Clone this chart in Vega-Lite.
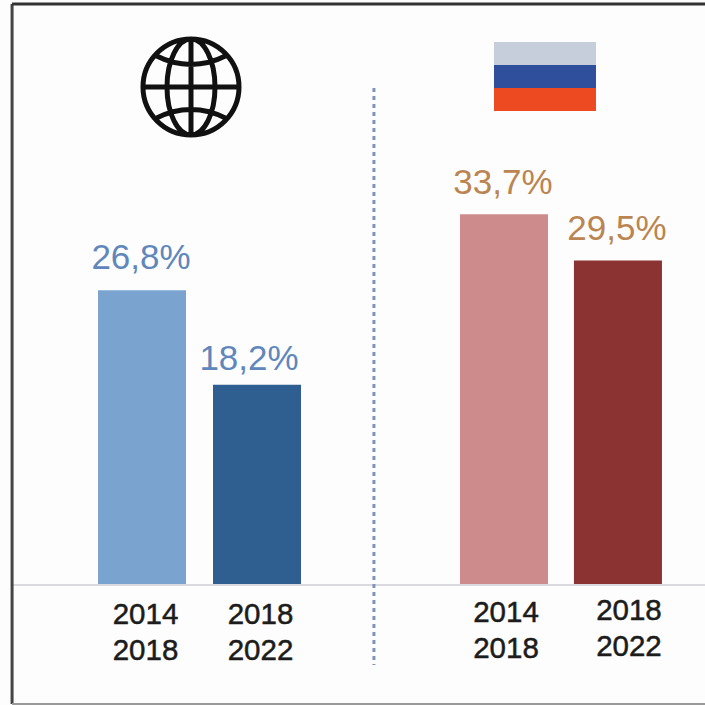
{
  "$schema": "https://vega.github.io/schema/vega-lite/v6.json",
  "width": 705,
  "height": 705,
  "padding": 0,
  "autosize": "none",
  "background": "#fdfdfd",
  "config": {"view": {"stroke": null}},
  "datasets": {
    "bars": [
      {"region": "World", "period": "2014\n2018", "series": "World 2014-2018", "slot": 1, "share": 26.8, "label": "26,8%"},
      {"region": "World", "period": "2018\n2022", "series": "World 2018-2022", "slot": 2, "share": 18.2, "label": "18,2%"},
      {"region": "Russia", "period": "2014\n2018", "series": "Russia 2014-2018", "slot": 4.148, "share": 33.7, "label": "33,7%"},
      {"region": "Russia", "period": "2018\n2022", "series": "Russia 2018-2022", "slot": 5.139, "share": 29.5, "label": "29,5%"}
    ],
    "flag": [
      {"stripe": "white", "top": 49.36, "bottom": 47.27},
      {"stripe": "blue", "top": 47.27, "bottom": 45.18},
      {"stripe": "red", "top": 45.18, "bottom": 43.09}
    ],
    "single": [{"item": "decoration"}]
  },
  "layer": [
    {
      "description": "Bars for each region and period",
      "data": {"name": "bars"},
      "mark": {"type": "bar", "size": 88, "orient": "vertical"},
      "encoding": {
        "x": {"field": "slot", "type": "quantitative", "axis": null, "scale": {"domain": [-0.235, 5.896], "nice": false, "zero": false, "padding": 0}},
        "y": {"field": "share", "type": "quantitative", "axis": null, "stack": false, "scale": {"domain": [-10.91, 53.18], "nice": false, "zero": false}},
        "color": {
          "field": "series",
          "type": "nominal",
          "legend": null,
          "scale": {
            "domain": ["World 2014-2018", "World 2018-2022", "Russia 2014-2018", "Russia 2018-2022"],
            "range": ["#7ba3cf", "#2f5f91", "#cd8b8c", "#8b3232"]
          }
        }
      }
    },
    {
      "description": "Baseline under the bars",
      "data": {"name": "single"},
      "mark": {"type": "rule", "color": "#d9d9df", "strokeWidth": 2},
      "encoding": {
        "x": {"datum": -0.13, "type": "quantitative"},
        "x2": {"datum": 5.896},
        "y": {"datum": 0, "type": "quantitative"}
      }
    },
    {
      "description": "Dotted divider between the two regions",
      "data": {"name": "single"},
      "mark": {"type": "rule", "color": "#7f93bd", "strokeWidth": 3, "strokeDash": [4, 4]},
      "encoding": {
        "x": {"datum": 3.017, "type": "quantitative"},
        "y": {"datum": 45.18, "type": "quantitative"},
        "y2": {"datum": -7.27}
      }
    },
    {
      "description": "Outer frame: left edge",
      "data": {"name": "single"},
      "mark": {"type": "rule", "color": "#444444", "strokeWidth": 3},
      "encoding": {
        "x": {"datum": -0.13, "type": "quantitative"},
        "y": {"datum": 52.82, "type": "quantitative"},
        "y2": {"datum": -10.82}
      }
    },
    {
      "description": "Outer frame: top edge",
      "data": {"name": "single"},
      "mark": {"type": "rule", "color": "#333333", "strokeWidth": 3},
      "encoding": {
        "x": {"datum": -0.13, "type": "quantitative"},
        "x2": {"datum": 5.896},
        "y": {"datum": 52.82, "type": "quantitative"}
      }
    },
    {
      "description": "Outer frame: bottom edge",
      "data": {"name": "single"},
      "mark": {"type": "rule", "color": "#9a9a9a", "strokeWidth": 2},
      "encoding": {
        "x": {"datum": -0.13, "type": "quantitative"},
        "x2": {"datum": 5.896},
        "y": {"datum": -10.82, "type": "quantitative"}
      }
    },
    {
      "description": "Russian flag stripes",
      "data": {"name": "flag"},
      "mark": {"type": "rect"},
      "encoding": {
        "x": {"datum": 4.061, "type": "quantitative"},
        "x2": {"datum": 4.948},
        "y": {"field": "top", "type": "quantitative"},
        "y2": {"field": "bottom"},
        "fill": {
          "field": "stripe",
          "type": "nominal",
          "legend": null,
          "scale": {"domain": ["white", "blue", "red"], "range": ["#c6cedb", "#2f4f9d", "#ee4a22"]}
        }
      }
    },
    {
      "description": "Globe icon drawn as a custom symbol",
      "data": {"name": "single"},
      "mark": {
        "type": "point",
        "filled": false,
        "stroke": "#111111",
        "strokeWidth": 5,
        "opacity": 1,
        "size": 9216,
        "shape": "M-1,0A1,1 0 1,1 1,0A1,1 0 1,1 -1,0ZM-1,0L1,0M0,-1L0,1M0,-1A0.5,1 0 1,0 0,1A0.5,1 0 1,0 0,-1ZM-0.75,-0.66Q0,-0.28 0.75,-0.66M-0.75,0.66Q0,0.28 0.75,0.66"
      },
      "encoding": {
        "x": {"datum": 1.426, "type": "quantitative"},
        "y": {"datum": 45.27, "type": "quantitative"}
      }
    },
    {
      "description": "Value label of the taller World bar",
      "data": {"name": "bars"},
      "transform": [{"filter": "datum.label === '26,8%'"}],
      "mark": {"type": "text", "font": "Liberation Sans", "fontSize": 35, "color": "#5f87bb", "baseline": "alphabetic", "align": "center", "dx": -1, "dy": -21},
      "encoding": {
        "x": {"field": "slot", "type": "quantitative"},
        "y": {"field": "share", "type": "quantitative"},
        "text": {"field": "label"}
      }
    },
    {
      "description": "Value label of the shorter World bar sits left of its bar",
      "data": {"name": "bars"},
      "transform": [{"filter": "datum.label === '18,2%'"}],
      "mark": {"type": "text", "font": "Liberation Sans", "fontSize": 35, "color": "#5f87bb", "baseline": "alphabetic", "align": "center", "dx": -8, "dy": -15},
      "encoding": {
        "x": {"field": "slot", "type": "quantitative"},
        "y": {"field": "share", "type": "quantitative"},
        "text": {"field": "label"}
      }
    },
    {
      "description": "Value labels, Russia",
      "data": {"name": "bars"},
      "transform": [{"filter": "datum.region === 'Russia'"}],
      "mark": {"type": "text", "font": "Liberation Sans", "fontSize": 35, "color": "#bb8552", "baseline": "alphabetic", "align": "center", "dx": -1, "dy": -20.5},
      "encoding": {
        "x": {"field": "slot", "type": "quantitative"},
        "y": {"field": "share", "type": "quantitative"},
        "text": {"field": "label"}
      }
    },
    {
      "description": "Period labels, World",
      "data": {"name": "bars"},
      "transform": [{"filter": "datum.region === 'World'"}],
      "mark": {"type": "text", "font": "Liberation Sans", "fontSize": 29.5, "color": "#1c1c1c", "stroke": "#1c1c1c", "strokeWidth": 0.5, "baseline": "alphabetic", "align": "center", "lineBreak": "\n", "lineHeight": 36.5, "dx": 3.5, "dy": 39},
      "encoding": {
        "x": {"field": "slot", "type": "quantitative"},
        "y": {"datum": 0, "type": "quantitative"},
        "text": {"field": "period"}
      }
    },
    {
      "description": "Period label, Russia first bar",
      "data": {"name": "bars"},
      "transform": [{"filter": "datum.region === 'Russia' && datum.slot < 5"}],
      "mark": {"type": "text", "font": "Liberation Sans", "fontSize": 29.5, "color": "#1c1c1c", "stroke": "#1c1c1c", "strokeWidth": 0.5, "baseline": "alphabetic", "align": "center", "lineBreak": "\n", "lineHeight": 36.5, "dx": 2, "dy": 37},
      "encoding": {
        "x": {"field": "slot", "type": "quantitative"},
        "y": {"datum": 0, "type": "quantitative"},
        "text": {"field": "period"}
      }
    },
    {
      "description": "Period label, Russia second bar",
      "data": {"name": "bars"},
      "transform": [{"filter": "datum.region === 'Russia' && datum.slot > 5"}],
      "mark": {"type": "text", "font": "Liberation Sans", "fontSize": 29.5, "color": "#1c1c1c", "stroke": "#1c1c1c", "strokeWidth": 0.5, "baseline": "alphabetic", "align": "center", "lineBreak": "\n", "lineHeight": 36.5, "dx": 11, "dy": 35},
      "encoding": {
        "x": {"field": "slot", "type": "quantitative"},
        "y": {"datum": 0, "type": "quantitative"},
        "text": {"field": "period"}
      }
    }
  ]
}
